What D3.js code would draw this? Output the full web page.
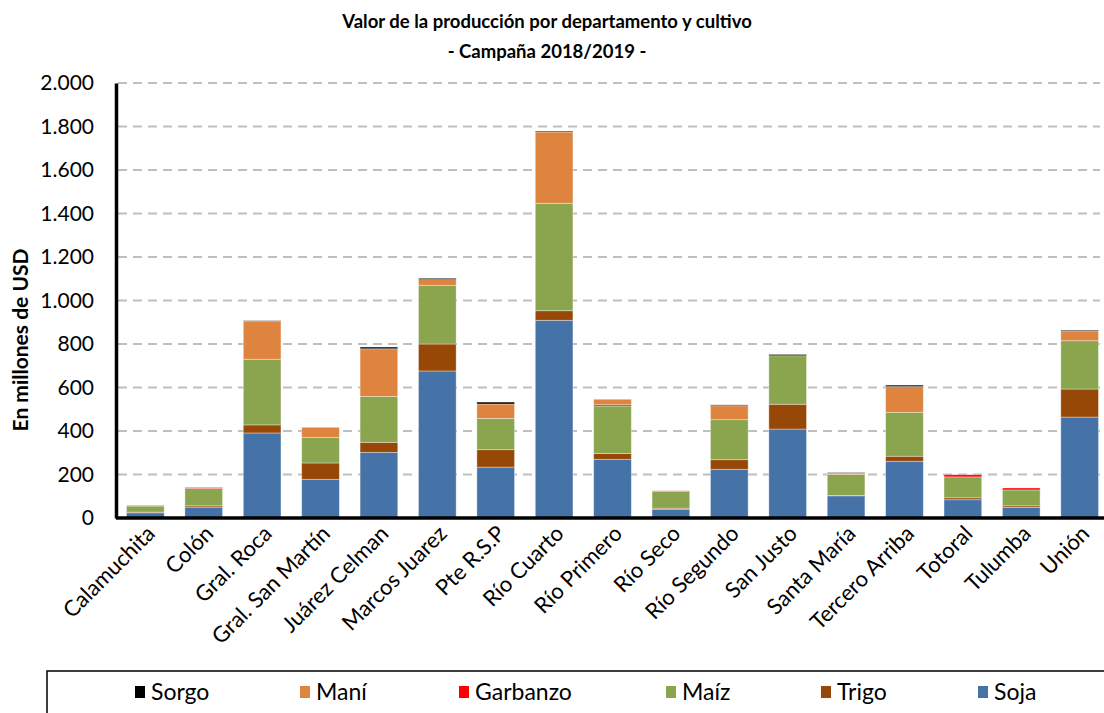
<!DOCTYPE html>
<html>
<head>
<meta charset="utf-8">
<script src="https://cdn.jsdelivr.net/npm/d3@7"></script>
<style>
  body { margin: 0; background: #fff; }
  svg { font-family: Lato, "Open Sans", sans-serif; }
  .grid line { stroke: #bfbfbf; stroke-width: 2; stroke-dasharray: 9,6; }
</style>
</head>
<body>
<div id="chart"></div>
<script>
// datos (millones de USD)
var departamentos = ["Calamuchita", "Colón", "Gral. Roca", "Gral. San Martín", "Juárez Celman",
  "Marcos Juarez", "Pte R.S.P", "Río Cuarto", "Río Primero", "Río Seco", "Río Segundo",
  "San Justo", "Santa María", "Tercero Arriba", "Totoral", "Tulumba", "Unión"];
var soja     = [24, 50, 391, 178, 302, 676, 234, 909, 270, 40, 224, 409, 102, 261, 84, 49, 464];
var trigo    = [3, 6, 37, 75, 46, 124, 80, 44, 26, 5, 44, 114, 2, 23, 9, 7, 129];
var maiz     = [28, 80, 302, 118, 211, 270, 144, 494, 219, 78, 184, 223, 96, 202, 96, 73, 222];
var garbanzo = [0, 5, 0, 0, 0, 0, 0, 0, 6, 2, 0, 0, 0, 0, 10, 9, 0];
var mani     = [4, 1, 174, 46, 219, 26, 66, 328, 25, 1, 64, 0, 7, 118, 0, 0, 43];
var sorgo    = [0, 0, 3, 0, 8, 6, 9, 4, 0, 0, 4, 6, 2, 7, 0, 0, 5];
var yTicks   = [0, 200, 400, 600, 800, 1000, 1200, 1400, 1600, 1800, 2000];

// series de abajo hacia arriba
var cultivos = ["Soja", "Trigo", "Maíz", "Garbanzo", "Maní", "Sorgo"];
var colores  = {"Soja": "#4572a7", "Trigo": "#974706", "Maíz": "#8aa54e", "Garbanzo": "#ff0000", "Maní": "#de843f", "Sorgo": "#000000"};
var legendOrder = ["Sorgo", "Maní", "Garbanzo", "Maíz", "Trigo", "Soja"];

var tabla = departamentos.map(function(d, i) {
  return {dep: d, "Soja": soja[i], "Trigo": trigo[i], "Maíz": maiz[i],
          "Garbanzo": garbanzo[i], "Maní": mani[i], "Sorgo": sorgo[i]};
});

var W = 1104, H = 713;
var margin = {top: 83, left: 116, bottom: 195, right: -5};

var svg = d3.select("#chart").append("svg")
  .attr("width", W).attr("height", H);

var x = d3.scaleBand()
  .domain(departamentos)
  .range([margin.left, W - margin.right])
  .paddingInner(0.355)
  .paddingOuter(0.18);

var y = d3.scaleLinear()
  .domain([0, 2000])
  .range([H - margin.bottom, margin.top]);

// grilla
svg.append("g").attr("class", "grid")
  .selectAll("line")
  .data(yTicks.slice(1))
  .enter().append("line")
  .attr("x1", margin.left + 2).attr("x2", 1100)
  .attr("y1", function(d) { return y(d); })
  .attr("y2", function(d) { return y(d); });

// barras apiladas
var series = d3.stack().keys(cultivos)(tabla);

svg.append("g").selectAll("g")
  .data(series)
  .enter().append("g")
  .attr("fill", function(d) { return colores[d.key]; })
  .selectAll("rect")
  .data(function(d) { return d; })
  .enter().append("rect")
  .attr("x", function(d) { return x(d.data.dep); })
  .attr("width", x.bandwidth())
  .attr("y", function(d) { return y(d[1]); })
  .attr("height", function(d) { return Math.max(0, y(d[0]) - y(d[1])); })
  .attr("stroke", "rgba(255,255,255,0.45)")
  .attr("stroke-width", 0.8);

// eje y
var yAxis = svg.append("g")
  .attr("transform", "translate(" + margin.left + ",0)")
  .call(d3.axisLeft(y).tickValues(yTicks).tickSize(0).tickPadding(22)
    .tickFormat(function(d) { return d3.format(",")(d).replace(/,/g, "."); }));
yAxis.select(".domain").attr("stroke", "#000").attr("stroke-width", 3.5);
yAxis.selectAll("text").attr("font-size", 21).attr("fill", "#000")
  .attr("font-family", "Lato");

// eje x
var xAxis = svg.append("g")
  .attr("transform", "translate(0," + y(0) + ")")
  .call(d3.axisBottom(x).tickSize(0).tickPadding(0));
xAxis.select(".domain").attr("stroke", "#000").attr("stroke-width", 3.5)
  .attr("d", "M" + margin.left + ",0H" + W);
xAxis.selectAll("text")
  .attr("font-size", 22).attr("fill", "#000")
  .attr("font-family", "Lato")
  .attr("text-anchor", "end")
  .attr("dy", null).attr("y", 0)
  .attr("transform", "translate(11,17) rotate(-45)");

// titulo
svg.append("text")
  .attr("x", 547).attr("y", 28)
  .attr("text-anchor", "middle")
  .attr("font-size", 18.5).attr("font-weight", "bold")
  .text("Valor de la producción por departamento y cultivo");
svg.append("text")
  .attr("x", 547).attr("y", 58)
  .attr("text-anchor", "middle")
  .attr("font-size", 18.5).attr("font-weight", "bold")
  .text("- Campaña 2018/2019 -");

// titulo eje y
svg.append("text")
  .attr("transform", "translate(28,340) rotate(-90)")
  .attr("text-anchor", "middle")
  .attr("font-size", 21).attr("font-weight", "bold")
  .text("En millones de USD");

// leyenda
svg.append("rect")
  .attr("x", 47).attr("y", 671)
  .attr("width", 1070).attr("height", 60)
  .attr("fill", "none").attr("stroke", "#000").attr("stroke-width", 1.5);

var legX = [135, 300, 459, 666, 821, 978];
var leg = svg.append("g").selectAll("g")
  .data(legendOrder)
  .enter().append("g")
  .attr("transform", function(d, i) { return "translate(" + legX[i] + ",0)"; });
leg.append("rect")
  .attr("x", 0).attr("y", 686).attr("width", 10).attr("height", 12)
  .attr("fill", function(d) { return colores[d]; });
leg.append("text")
  .attr("x", 16).attr("y", 700)
  .attr("font-size", 23)
  .text(function(d) { return d; });
</script>
</body>
</html>
